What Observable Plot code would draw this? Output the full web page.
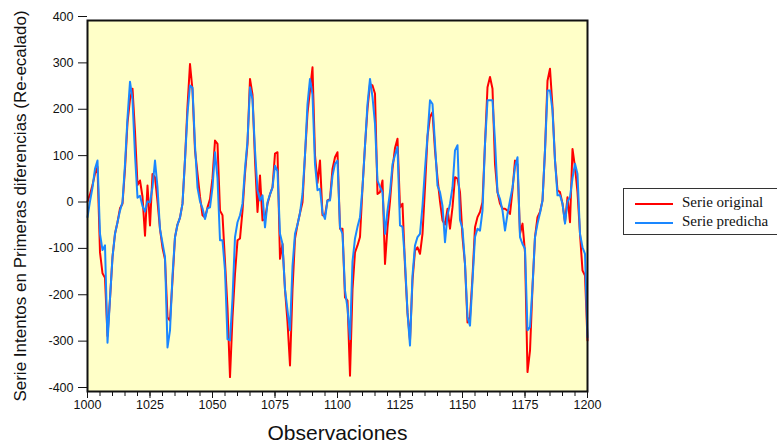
<!DOCTYPE html>
<html><head><meta charset="utf-8">
<script src="https://cdn.jsdelivr.net/npm/d3@7"></script>
<script src="https://cdn.jsdelivr.net/npm/@observablehq/plot@0.6"></script>
<style>
body{margin:0;background:#fff;}
#wrap{position:relative;width:777px;height:444px;overflow:hidden;}
#legend{position:absolute;left:623px;top:188px;width:170px;height:47px;border:1px solid #333;box-sizing:border-box;font-family:"Liberation Serif","Times New Roman",serif;font-size:15px;color:#111;}
.item{position:absolute;left:0;height:18px;white-space:nowrap;}
.item .ln{position:absolute;left:11px;width:38px;height:2px;top:8px;}
.item .tx{position:absolute;left:58px;top:-1px;}
</style></head><body><div id="wrap"></div>
<script>
const obsStart = 1000;
const xLabel = "Observaciones";
const yLabel = "Serie Intentos en Primeras diferencias (Re-ecalado)";
const seriesNames = ["Serie original", "Serie predicha"];
const seriesColors = ["#ff0000", "#1a87ff"];
const xTicks = [1000, 1025, 1050, 1075, 1100, 1125, 1150, 1175, 1200];
const xMinorTicks = [1000,1005,1010,1015,1020,1025,1030,1035,1040,1045,1050,1055,1060,1065,1070,1075,1080,1085,1090,1095,1100,1105,1110,1115,1120,1125,1130,1135,1140,1145,1150,1155,1160,1165,1170,1175,1180,1185,1190,1195,1200];
const yTicks = [-400, -300, -200, -100, 0, 100, 200, 300, 400];

const original = [
  10, 25, 45, 70, 84, -100, -145, -155, -280, -200,
  -110, -60, -35, -5, 5, 80, 180, 230, 253, 160,
  45, 55, 20, -64, 44, -42, 69, 62, 10, -50,
  -90, -115, -240, -247, -160, -67, -40, -25, 5, 100,
  215, 306, 250, 120, 70, 20, -20, -25, -3, 15,
  60, 141, 134, -10, -20, -120, -220, -369, -240, -146,
  -74, -70, -10, 70, 134, 274, 240, 100, -13, 66,
  -31, -28, 5, 25, 40, 113, 116, -114, -82, -180,
  -250, -344, -180, -70, -40, -15, 8, 110, 200, 250,
  299, 110, 50, 98, -20, -20, 12, 15, 80, 105,
  116, -49, -49, -197, -204, -366, -180, -100, -85, -67,
  40, 130, 210, 263, 260, 242, 26, 30, 55, -125,
  -46, 10, 80, 125, 145, -3, 5, -130, -230, -290,
  -160, -96, -89, -103, -60, 40, 150, 192, 202, 120,
  60, 10, -31, -40, -6, -49, -3, 62, 59, 30,
  -67, -125, -251, -240, -153, -46, -24, -13, 8, 134,
  256, 278, 253, 91, 30, 5, -6, -6, -10, -17,
  34, 98, 90, -60, -38, -100, -358, -312, -175, -67,
  -24, -13, 12, 120, 270, 296, 213, 98, 34, 30,
  5, -35, 19, -35, 123, 84, 30, -60, -139, -150,
  -290
];
const predicted = [
  -24, 10, 40, 80, 98, -60, -95, -85, -295, -200,
  -110, -60, -35, -10, 8, 90, 190, 268, 230, 110,
  18, 22, 0, -12, 10, 8, 40, 98, 40, -50,
  -80, -110, -305, -268, -150, -67, -40, -25, 5, 100,
  200, 260, 255, 130, 40, 10, -5, -28, -5, -3,
  40, 116, 60, -74, -74, -139, -287, -290, -200, -67,
  -35, -20, 5, 80, 140, 256, 230, 120, 34, 12,
  23, -46, 8, 25, 40, 87, 75, -60, -82, -180,
  -225, -268, -130, -60, -40, -15, 26, 110, 220, 274,
  240, 90, 34, 37, -15, -28, 12, 12, 65, 91,
  98, -46, -60, -182, -220, -287, -120, -70, -45, -24,
  40, 130, 220, 274, 235, 177, 55, 41, 30, -60,
  -10, 30, 90, 110, 127, -42, -45, -120, -230, -301,
  -150, -85, -67, -60, 0, 80, 150, 228, 220, 134,
  44, 30, 0, -78, -20, 5, 40, 120, 131, -30,
  -49, -125, -240, -258, -160, -67, -49, -53, -10, 134,
  228, 228, 228, 140, 30, 15, -10, -53, -17, 12,
  40, 84, 105, -67, -82, -92, -268, -261, -175, -67,
  -38, -15, 12, 120, 249, 249, 206, 98, 23, 23,
  5, -38, 10, 19, 60, 91, 69, -60, -89, -103,
  -283
];

const rowsO = original.map((v, i) => ({obs: obsStart + i, value: v}));
const rowsP = predicted.map((v, i) => ({obs: obsStart + i, value: v}));

const chart = Plot.plot({
  width: 777,
  height: 444,
  marginLeft: 87,
  marginRight: 190,
  marginTop: 20,
  marginBottom: 53,
  style: {fontFamily: "'Liberation Sans', Arial, sans-serif", fontSize: "12px", background: "white", color: "#111"},
  x: {domain: [1000, 1200]},
  y: {domain: [-400, 400]},
  marks: [
    Plot.frame({fill: "#ffffc8", stroke: null}),
    Plot.lineY(rowsO, {x: "obs", y: "value", stroke: seriesColors[0], strokeWidth: 2}),
    Plot.lineY(rowsP, {x: "obs", y: "value", stroke: seriesColors[1], strokeWidth: 2}),
    Plot.frame({stroke: "#111", strokeWidth: 2}),
    Plot.axisX({ticks: xMinorTicks, tickSize: 5, tickFormat: () => "", label: null}),
    Plot.axisX({ticks: xTicks, tickSize: 7, tickPadding: 2, fontSize: 12.5, label: null, tickFormat: d => String(d)}),
    Plot.axisY({ticks: yTicks, tickSize: 9, tickPadding: 5, fontSize: 12.5, dy: -4, label: null, tickFormat: d => String(d)}),
    Plot.text([yLabel], {frameAnchor: "left", textAnchor: "middle", dx: -67, rotate: -90, fontSize: 17, fill: "#111"}),
    Plot.text([xLabel], {frameAnchor: "bottom", textAnchor: "middle", dy: 48, fontSize: 21, fill: "#111"})
  ]
});
const wrap = document.getElementById("wrap");
wrap.appendChild(chart);

const legend = document.createElement("div");
legend.id = "legend";
seriesNames.forEach((name, i) => {
  const it = document.createElement("div");
  it.className = "item";
  it.style.top = (6 + i * 19) + "px";
  const ln = document.createElement("div");
  ln.className = "ln";
  ln.style.background = seriesColors[i];
  const tx = document.createElement("div");
  tx.className = "tx";
  tx.textContent = name;
  it.appendChild(ln); it.appendChild(tx);
  legend.appendChild(it);
});
wrap.appendChild(legend);
</script>
</body></html>
